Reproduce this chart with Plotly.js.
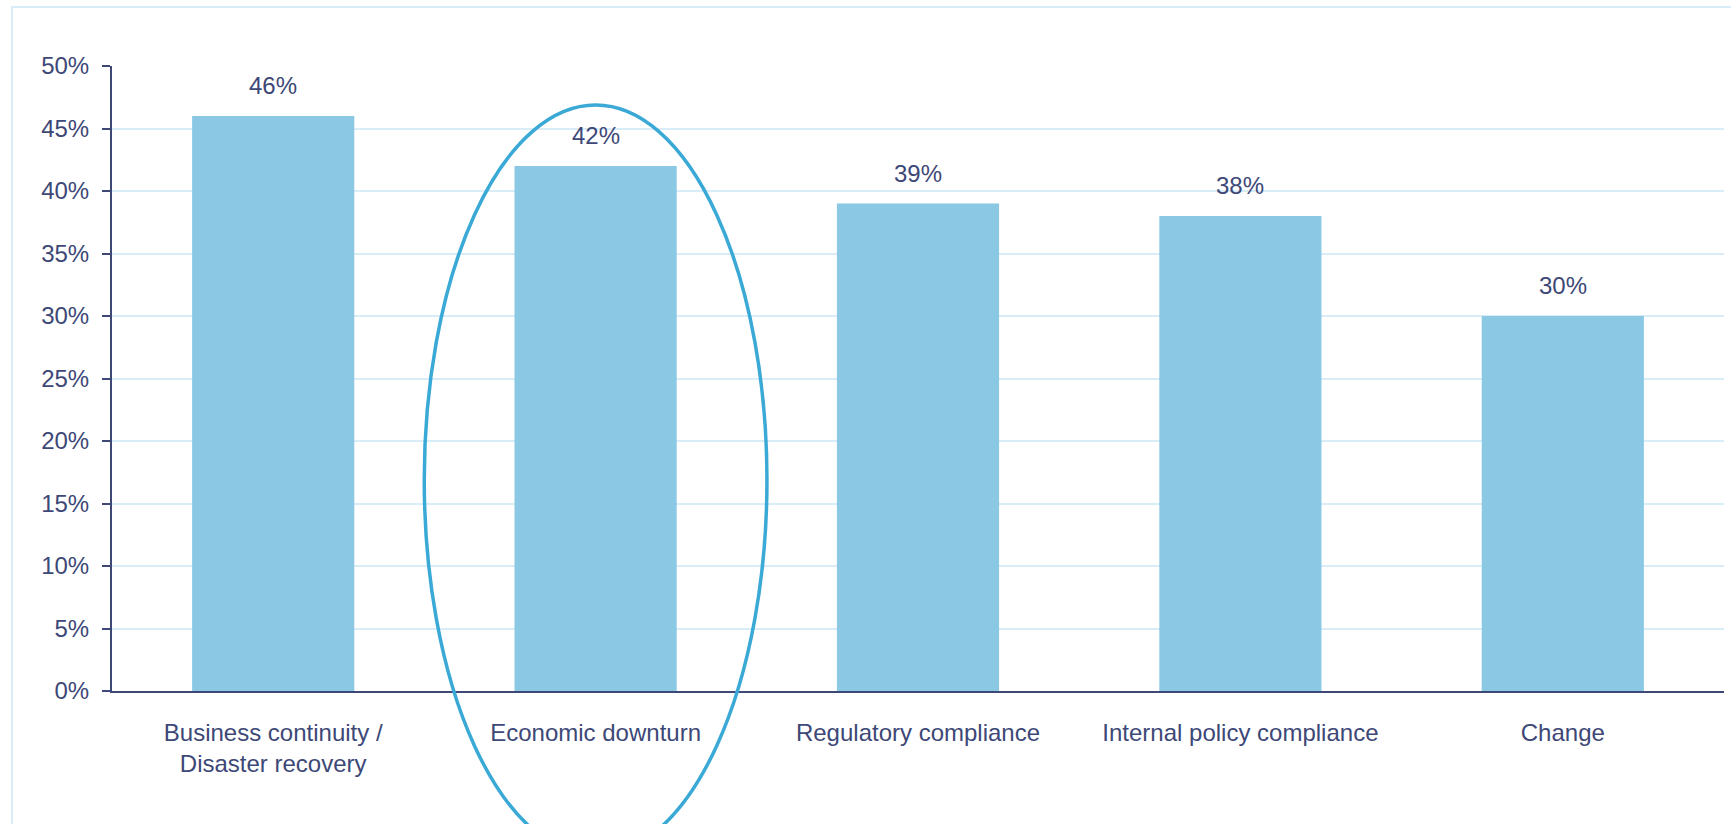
<!DOCTYPE html>
<html>
<head>
<meta charset="utf-8">
<script src="https://cdn.plot.ly/plotly-3.0.1.min.js"></script>
<style>
  html, body { margin: 0; padding: 0; background: #ffffff; }
  #chart { width: 1731px; height: 824px; }
</style>
</head>
<body>
<div id="chart"></div>
<script>
// ---- data ----
const categories = [
  "Business continuity /<br>Disaster recovery",
  "Economic downturn",
  "Regulatory compliance",
  "Internal policy compliance",
  "Change"
];
const values = [46, 42, 39, 38, 30];
const valueLabels = ["46%", "42%", "39%", "38%", "30%"];
const yTickValues = [0, 5, 10, 15, 20, 25, 30, 35, 40, 45, 50];
const highlightedCategory = "Economic downturn";

// ---- styles ----
const navy = "#3d4877";
const barColor = "#8ac8e4";
const gridColor = "#d8edf7";
const ringColor = "#3aa9d6";
const fontFamily = "'Liberation Sans', Arial, sans-serif";

const trace = {
  type: "bar",
  x: categories,
  y: values,
  marker: { color: barColor, line: { width: 0 } },
  hoverinfo: "none",
  showlegend: false
};

const annotations = categories.map((c, i) => ({
  x: c,
  y: values[i],
  xref: "x",
  yref: "y",
  text: valueLabels[i],
  showarrow: false,
  yanchor: "bottom",
  yshift: 15,
  font: { family: fontFamily, size: 24, color: navy }
}));

// highlight ellipse around chosen category (domain coords derived from its index)
const hi = categories.indexOf(highlightedCategory);
const n = categories.length;
const cx = (hi + 0.5) / n;
const shapes = [
  {
    type: "rect",
    xref: "paper", yref: "paper",
    x0: -0.062, x1: 1.2, y0: -0.5, y1: 1.0945,
    line: { color: gridColor, width: 2 },
    fillcolor: "rgba(0,0,0,0)",
    layer: "below"
  },
  {
    type: "circle",
    xref: "x domain", yref: "y domain",
    x0: cx - 0.1063, x1: cx + 0.1063,
    y0: -0.2633, y1: 0.9375,
    line: { color: ringColor, width: 3.5 },
    fillcolor: "rgba(0,0,0,0)",
    layer: "above"
  }
];

const layout = {
  width: 1731,
  height: 824,
  margin: { l: 112, r: 7, t: 66, b: 133, pad: 0 },
  paper_bgcolor: "#ffffff",
  plot_bgcolor: "#ffffff",
  bargap: 0.497,
  font: { family: fontFamily, size: 24, color: navy },
  xaxis: {
    type: "category",
    showline: true,
    linecolor: navy,
    linewidth: 2,
    ticks: "",
    showgrid: false,
    zeroline: false,
    tickfont: { family: fontFamily, size: 24, color: navy },
    ticklabelstandoff: 19,
    fixedrange: true
  },
  yaxis: {
    range: [0, 50],
    tickvals: yTickValues,
    ticktext: yTickValues.map(v => v + "%"),
    showline: true,
    linecolor: navy,
    linewidth: 2,
    ticks: "outside",
    ticklen: 8,
    tickwidth: 2,
    tickcolor: navy,
    showgrid: true,
    gridcolor: gridColor,
    gridwidth: 2,
    zeroline: false,
    tickfont: { family: fontFamily, size: 24, color: navy },
    ticklabelstandoff: 8,
    fixedrange: true
  },
  annotations: annotations,
  shapes: shapes
};

Plotly.newPlot("chart", [trace], layout, { displayModeBar: false, staticPlot: true });
</script>
</body>
</html>
